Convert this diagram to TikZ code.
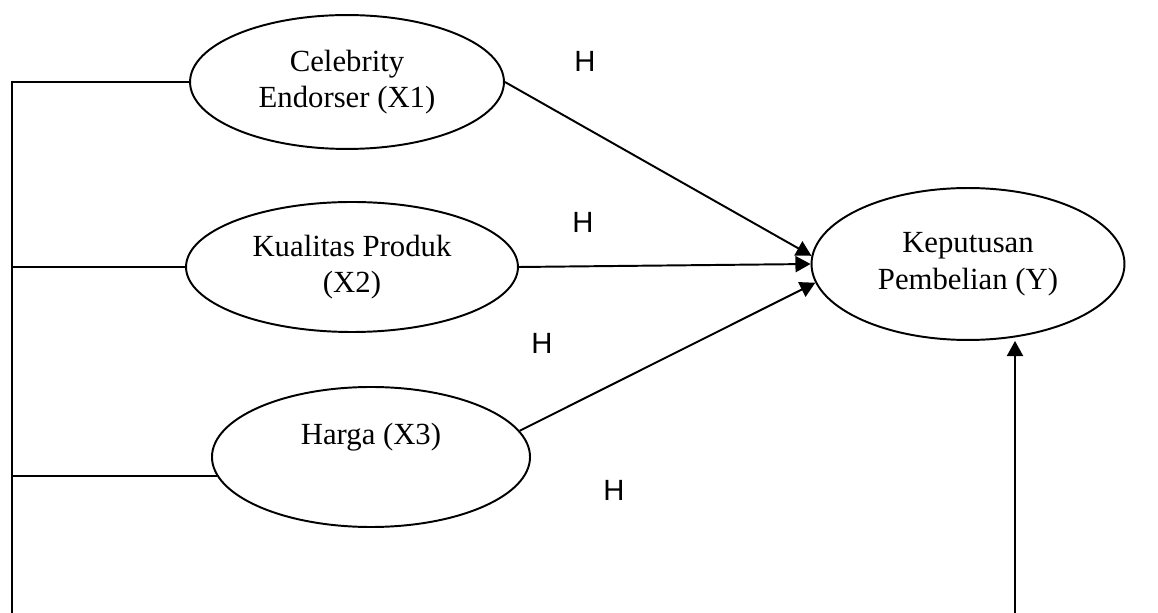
\documentclass[tikz,border=0pt]{standalone}
\usepackage{fontspec}
\setmainfont{Liberation Serif}
\newfontfamily\labfont{Liberation Sans}
\usetikzlibrary{arrows.meta,shapes.geometric}
\tikzset{
  >={Triangle[length=6.2pt,width=6.6pt]},
  var/.style={draw,ellipse,inner sep=0pt,line width=0.8pt,align=center,font=\fontsize{12.6}{15}\selectfont},
  lab/.style={font=\labfont\fontsize{12}{14}\selectfont},
  ln/.style={line width=0.8pt},
  arr/.style={->,line width=0.8pt},
}

\begin{document}
\begin{tikzpicture}[x=0.41pt,y=-0.41pt]
\useasboundingbox (0,0) rectangle (1158,613);
% variables
\node[var,minimum width=128.7pt,minimum height=54.9pt] (cel) at (347,82) {Celebrity\\Endorser (X1)};
\node[var,minimum width=136.1pt,minimum height=53.3pt] (kual) at (352,267) {Kualitas Produk\\(X2)};
\node[var,minimum width=130.4pt,minimum height=57.4pt,text depth=19pt] (harga) at (371,457) {Harga (X3)};
\node[var,minimum width=128.3pt,minimum height=62.3pt] (kep) at (968,264) {Keputusan\\Pembelian (Y)};
% hypotheses
\node[lab] (h1) at (585,61) {H};
\node[lab] (h2) at (583,222) {H};
\node[lab] (h3) at (542,343) {H};
\node[lab] (h4) at (614,490) {H};
% connectors
\coordinate (lb) at (12,613);
\coordinate (bot) at (1015,613);
\draw[ln] (lb) |- (cel.west);
\draw[ln] (kual.west) -- (kual.west -| lb);
\draw[ln] (harga.187) -- (harga.187 -| lb);
\draw[arr] (cel.east) -- (kep.177);
\draw[arr] (kual.east) -- (kep.west);
\draw[arr] (harga.10) -- (kep.187);
\draw[arr] (bot) -- (bot |- kep.south);
\end{tikzpicture}
\end{document}
